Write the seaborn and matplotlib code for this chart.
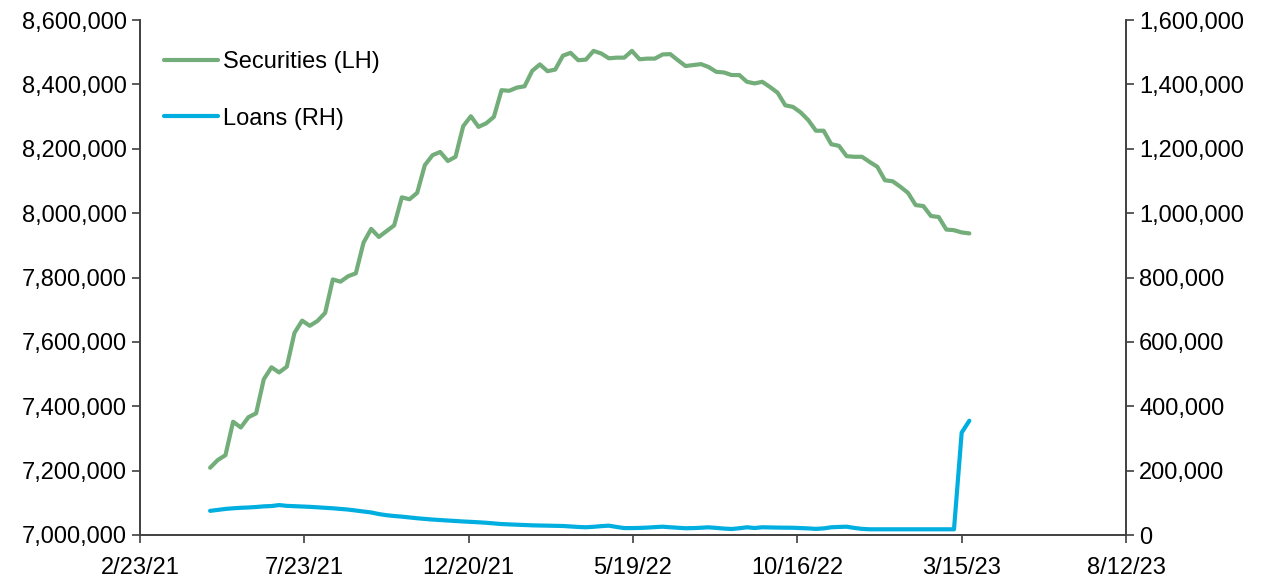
import pandas as pd
import numpy as np
import matplotlib
matplotlib.use('Agg')
import matplotlib.pyplot as plt
import matplotlib.ticker as mticker
import seaborn as sns

# Weekly H.8 style data (Wednesdays), Apr 2021 - Mar 2023
dates = pd.date_range('2021-04-28', periods=100, freq='W-WED')

securities = [
    7209000, 7233000, 7248000, 7352000, 7334000, 7366000, 7378000, 7484000, 7521000, 7505000,
    7523000, 7628000, 7666000, 7650000, 7665000, 7690000, 7794000, 7787000, 7804000, 7813000,
    7908000, 7951000, 7926000, 7944000, 7962000, 8049000, 8043000, 8063000, 8149000, 8180000,
    8190000, 8162000, 8175000, 8270000, 8301000, 8268000, 8279000, 8299000, 8382000, 8380000,
    8390000, 8394000, 8442000, 8462000, 8441000, 8446000, 8489000, 8498000, 8475000, 8477000,
    8504000, 8496000, 8481000, 8483000, 8483000, 8504000, 8478000, 8480000, 8480000, 8493000,
    8494000, 8475000, 8457000, 8460000, 8463000, 8454000, 8439000, 8437000, 8429000, 8429000,
    8408000, 8403000, 8408000, 8392000, 8374000, 8335000, 8330000, 8313000, 8289000, 8256000,
    8256000, 8214000, 8209000, 8177000, 8175000, 8175000, 8159000, 8144000, 8102000, 8099000,
    8082000, 8063000, 8025000, 8022000, 7991000, 7988000, 7949000, 7947000, 7940000, 7937000,
]

loans = [
    75000, 78000, 81000, 83000, 84500, 85500, 87000, 89000, 90000, 93000,
    90500, 89500, 88500, 87500, 86000, 84500, 83000, 81000, 79000, 76000,
    73000, 70000, 65000, 61500, 59000, 57000, 54500, 52000, 50000, 48000,
    46500, 45000, 43500, 42000, 40800, 39500, 38000, 36000, 34000, 33000,
    32000, 31000, 30000, 29500, 29000, 28500, 28000, 26500, 25000, 24000,
    25500, 27500, 29000, 25000, 21500, 21500, 22000, 23000, 24500, 25800,
    24000, 22500, 21000, 21500, 22500, 23900, 22000, 20000, 18600, 21000,
    24000, 21700, 24000, 23500, 23000, 22700, 22500, 21500, 20500, 19000,
    20500, 24000, 25000, 25800, 22000, 19000, 17700, 17700, 17700, 17700,
    17700, 17700, 17700, 17700, 17700, 17700, 17700, 17700, 318000, 355000,
]

df = pd.DataFrame({'date': dates, 'Securities (LH)': securities, 'Loans (RH)': loans})

sns.set_theme(style='white')
plt.rcParams['font.family'] = ['Liberation Sans', 'DejaVu Sans']

GREEN = '#72AD7A'
BLUE = '#00AEE0'
FS = 17

fig = plt.figure(figsize=(12.68, 5.77), dpi=100)
ax = fig.add_axes([140 / 1268, 1 - 535 / 577, (1126 - 140) / 1268, (535 - 20) / 577])
ax2 = ax.twinx()

sns.lineplot(data=df, x='date', y='Securities (LH)', ax=ax, color=GREEN, linewidth=3, label='Securities (LH)', legend=False)
sns.lineplot(data=df, x='date', y='Loans (RH)', ax=ax2, color=BLUE, linewidth=3, label='Loans (RH)', legend=False)

# axes limits / ticks
x0, x1 = pd.Timestamp('2021-02-23'), pd.Timestamp('2023-08-12')
ax.set_xlim(x0, x1)
xticks = pd.date_range(x0, x1, freq='150D')
ax.set_xticks(xticks)
ax.set_xticklabels([f'{d.month}/{d.day}/{d.strftime("%y")}' for d in xticks])

ax.set_ylim(7_000_000, 8_600_000)
ax.set_yticks(np.arange(7_000_000, 8_600_001, 200_000))
ax2.set_ylim(0, 1_600_000)
ax2.set_yticks(np.arange(0, 1_600_001, 200_000))
fmt = mticker.FuncFormatter(lambda v, p: f'{int(v):,}')
ax.yaxis.set_major_formatter(fmt)
ax2.yaxis.set_major_formatter(fmt)

for a in (ax, ax2):
    a.set_xlabel('')
    a.set_ylabel('')
    a.spines['top'].set_visible(False)
    for s in ('left', 'right', 'bottom'):
        a.spines[s].set_color('#404040')
        a.spines[s].set_linewidth(1.2)
    a.tick_params(axis='both', labelsize=FS, colors='#404040', labelcolor='black',
                  length=6, width=1.2, direction='out')
ax.tick_params(axis='y', left=True)
ax.tick_params(axis='x', bottom=True, pad=10)
ax2.tick_params(axis='y', right=True)

h1, l1 = ax.get_legend_handles_labels()
h2, l2 = ax2.get_legend_handles_labels()
ax.legend(h1 + h2, l1 + l2, loc='upper left', frameon=False, fontsize=FS, labelcolor='black',
          handlelength=2.3, handletextpad=0.2, labelspacing=1.45,
          bbox_to_anchor=(0.0, 0.985), borderaxespad=0.6)

fig.savefig('out.png', dpi=100)
